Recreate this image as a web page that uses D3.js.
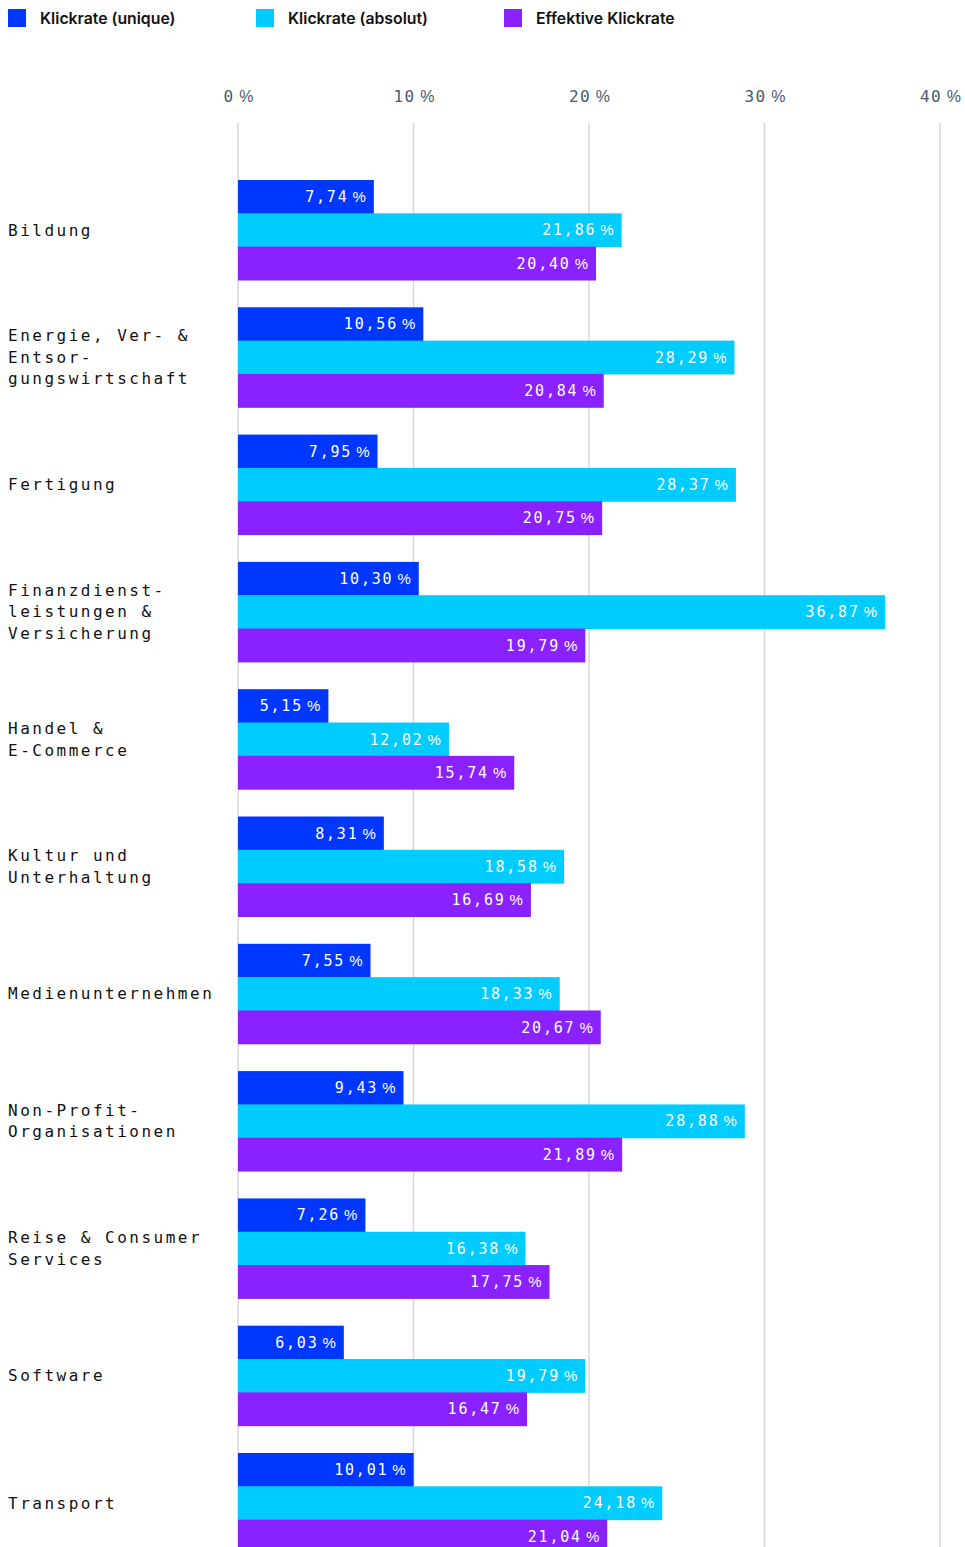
<!DOCTYPE html>
<html>
<head>
<meta charset="utf-8">
<script src="https://cdn.jsdelivr.net/npm/d3@7"></script>
<style>
  html, body { margin: 0; padding: 0; background: #fff; }
  svg { display: block; }
</style>
</head>
<body>
<svg id="chart" width="965" height="1547"></svg>
<script>
// Branchen (line breaks as printed in the label column)
const categories = [
  "Bildung",
  "Energie, Ver- & Entsor- gungswirtschaft",
  "Fertigung",
  "Finanzdienst- leistungen & Versicherung",
  "Handel & E-Commerce",
  "Kultur und Unterhaltung",
  "Medienunternehmen",
  "Non-Profit- Organisationen",
  "Reise & Consumer Services",
  "Software",
  "Transport"
];
const categoryLines = [
  ["Bildung"],
  ["Energie, Ver- &", "Entsor-", "gungswirtschaft"],
  ["Fertigung"],
  ["Finanzdienst-", "leistungen &", "Versicherung"],
  ["Handel &", "E-Commerce"],
  ["Kultur und", "Unterhaltung"],
  ["Medienunternehmen"],
  ["Non-Profit-", "Organisationen"],
  ["Reise & Consumer", "Services"],
  ["Software"],
  ["Transport"]
];

const seriesNames = ["Klickrate (unique)", "Klickrate (absolut)", "Effektive Klickrate"];
const clickUnique   = [7.74, 10.56, 7.95, 10.30, 5.15, 8.31, 7.55, 9.43, 7.26, 6.03, 10.01];
const clickAbsolute = [21.86, 28.29, 28.37, 36.87, 12.02, 18.58, 18.33, 28.88, 16.38, 19.79, 24.18];
const clickEffective = [20.40, 20.84, 20.75, 19.79, 15.74, 16.69, 20.67, 21.89, 17.75, 16.47, 21.04];
const seriesColors = ["#0037ff", "#00ccff", "#8a22ff"];
const tickValues = [0, 10, 20, 30, 40];

const seriesValues = [clickUnique, clickAbsolute, clickEffective];
const rows = categories.map((c, i) => ({
  category: c,
  lines: categoryLines[i],
  values: seriesValues.map((s, k) => ({ key: seriesNames[k], value: s[i], color: seriesColors[k] }))
}));

const monoFont = "'DejaVu Sans Mono', 'Liberation Mono', monospace";
const pctFont = "'Liberation Sans', Arial, sans-serif";
const svg = d3.select("#chart");
const fmt = v => d3.format(".2f")(v).replace(".", ",");

// Scales
const x = d3.scaleLinear().domain([0, 40]).range([238, 940]);
const y = d3.scaleBand().domain(categories).range([180, 1553]).paddingInner(0.2145).paddingOuter(0);
const ySub = d3.scaleBand().domain(seriesNames).range([0, y.bandwidth()]);

// Legend
const legend = svg.append("g").attr("class", "legend");
const legendItem = legend.selectAll("g").data(seriesNames).join("g")
  .attr("transform", (d, i) => `translate(${8 + i * 248}, 9)`);
legendItem.append("rect").attr("width", 18).attr("height", 18)
  .attr("fill", (d, i) => seriesColors[i]);
legendItem.append("text").attr("x", 32).attr("y", 15)
  .attr("font-family", "Inter, 'Noto Sans', sans-serif")
  .attr("font-weight", 600).attr("font-size", 15.8).attr("fill", "#111")
  .text(d => d);

// Top axis with grid lines
const axis = svg.append("g").attr("transform", "translate(0,123)")
  .call(d3.axisTop(x).tickValues(tickValues).tickSize(0).tickPadding(21)
    .tickFormat(d => String(d)));
axis.select(".domain").remove();
axis.selectAll("text")
  .attr("font-family", monoFont).attr("font-size", 16)
  .attr("letter-spacing", 1.3).attr("fill", "#4b5870")
  .append("tspan").attr("dx", 5).attr("font-family", pctFont)
  .attr("letter-spacing", 0).text("%");

svg.append("g").attr("class", "grid")
  .selectAll("line").data(tickValues).join("line")
  .attr("x1", d => x(d)).attr("x2", d => x(d))
  .attr("y1", 123).attr("y2", 1547)
  .attr("stroke", "#d3d7dd").attr("stroke-width", 1.5);

// Bars
const groups = svg.append("g").selectAll("g.group").data(rows).join("g")
  .attr("class", "group")
  .attr("transform", d => `translate(0,${y(d.category)})`);

groups.selectAll("rect").data(d => d.values).join("rect")
  .attr("x", x(0))
  .attr("y", d => ySub(d.key))
  .attr("width", d => x(d.value) - x(0))
  .attr("height", ySub.bandwidth() + 0.5)
  .attr("fill", d => d.color);

// Value labels, right-aligned inside each bar ("21,86 %")
const valueLabels = groups.selectAll("text.val").data(d => d.values).join("text")
  .attr("class", "val")
  .attr("x", d => x(d.value) - 8)
  .attr("y", d => ySub(d.key) + ySub.bandwidth() / 2)
  .attr("dy", "0.36em")
  .attr("text-anchor", "end")
  .attr("font-family", monoFont).attr("font-size", 15)
  .attr("letter-spacing", 1.8).attr("fill", "#fff");
valueLabels.append("tspan").text(d => fmt(d.value));
valueLabels.append("tspan").attr("dx", 4).attr("font-family", pctFont)
  .attr("letter-spacing", 0).text("%");

// Category labels
const lineHeight = 21.5;
groups.append("text")
  .attr("font-family", monoFont).attr("font-size", 16)
  .attr("letter-spacing", 2.5).attr("fill", "#111")
  .each(function(d) {
    const t = d3.select(this);
    const n = d.lines.length;
    d.lines.forEach((line, i) => {
      t.append("tspan").attr("x", 8)
        .attr("y", y.bandwidth() / 2 + (i - (n - 1) / 2) * lineHeight)
        .attr("dy", "0.35em")
        .text(line);
    });
  });
</script>
</body>
</html>
